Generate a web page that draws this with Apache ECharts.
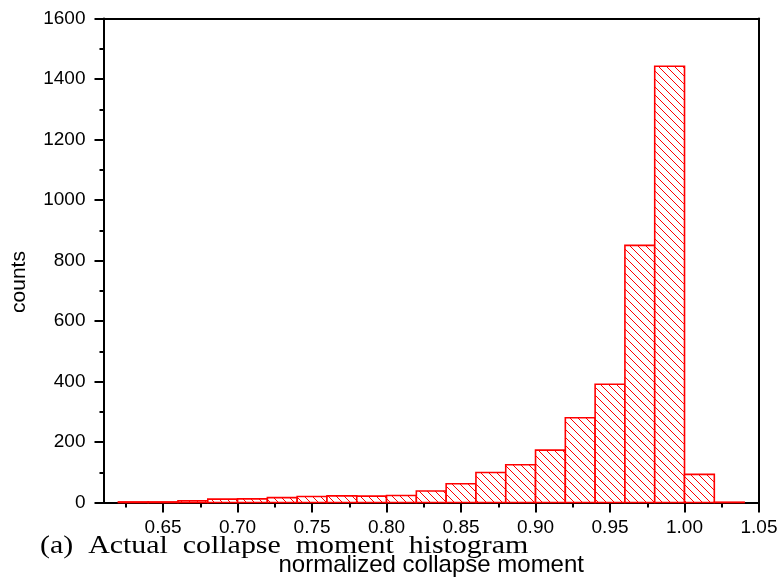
<!DOCTYPE html>
<html>
<head>
<meta charset="utf-8">
<script src="https://cdn.jsdelivr.net/npm/echarts@6/dist/echarts.min.js"></script>
<style>
  html, body { margin: 0; padding: 0; background: #fff; }
  #chart { width: 781px; height: 583px; }
</style>
</head>
<body>
<div id="chart"></div>
<script>
// Histogram bins: left edge of each bin (bin width 0.02) and the count in it
const binLefts = [0.62, 0.64, 0.66, 0.68, 0.70, 0.72, 0.74, 0.76, 0.78, 0.80,
                  0.82, 0.84, 0.86, 0.88, 0.90, 0.92, 0.94, 0.96, 0.98, 1.00, 1.02];
const binWidth = 0.02;
const counts = [2, 2, 6, 11, 12, 16, 20, 22, 21, 23,
                38, 62, 99, 125, 173, 280, 391, 850, 1442, 93, 1];

// Axis ticks
const xMajorTicks = [0.65, 0.70, 0.75, 0.80, 0.85, 0.90, 0.95, 1.00, 1.05];
const xMinorTicks = [0.625, 0.675, 0.725, 0.775, 0.825, 0.875, 0.925, 0.975, 1.025];
const xRange = [0.61, 1.05];
const yRange = [0, 1600];
const yStep = 200;

const caption = '(a)  Actual  collapse  moment  histogram';
const xTitle = 'normalized collapse moment';
const yTitle = 'counts';

// Diagonal hatch tile for the bar fill
function hatchTile() {
  const s = 8;
  const c = document.createElement('canvas');
  c.width = s; c.height = s;
  const g = c.getContext('2d');
  g.fillStyle = '#fff';
  g.fillRect(0, 0, s, s);
  g.strokeStyle = '#ff0000';
  g.lineWidth = 1;
  g.beginPath();
  g.moveTo(-1, -1); g.lineTo(s + 1, s + 1);
  g.moveTo(-1, s - 1); g.lineTo(1, s + 1);
  g.moveTo(s - 1, -1); g.lineTo(s + 1, 1);
  g.stroke();
  return c;
}

const hist = binLefts.map((x0, i) => [x0, x0 + binWidth, counts[i]]);

const chart = echarts.init(document.getElementById('chart'), null, { renderer: 'canvas' });
const axisFont = 'Liberation Sans';
const tile = hatchTile();

chart.setOption({
  animation: false,
  backgroundColor: '#fff',
  grid: { left: 103.5, top: 18.5, width: 655.5, height: 484, containLabel: false },
  xAxis: [
    {
      type: 'value', min: xRange[0], max: xRange[1], position: 'bottom', offset: 0,
      axisLine: { show: true, onZero: false, lineStyle: { color: '#000', width: 2 } },
      axisTick: { show: true, inside: false, length: 10, customValues: xMajorTicks,
                  lineStyle: { color: '#000', width: 2 } },
      axisLabel: { show: true, customValues: xMajorTicks, margin: 16,
                   formatter: v => v.toFixed(2),
                   fontFamily: axisFont, fontSize: 19, color: '#000' },
      splitLine: { show: false },
      name: xTitle, nameLocation: 'middle', nameGap: 51,
      nameTextStyle: { fontFamily: axisFont, fontSize: 24, color: '#000' }
    },
    {
      type: 'value', min: xRange[0], max: xRange[1], position: 'bottom', offset: 0,
      axisLine: { show: false },
      axisTick: { show: true, inside: false, length: 5, customValues: xMinorTicks,
                  lineStyle: { color: '#000', width: 2 } },
      axisLabel: { show: false },
      splitLine: { show: false }
    },
    {
      type: 'value', min: xRange[0], max: xRange[1], position: 'top', offset: 0,
      axisLine: { show: true, onZero: false, lineStyle: { color: '#000', width: 2 } },
      axisTick: { show: false }, axisLabel: { show: false }, splitLine: { show: false }
    }
  ],
  yAxis: [
    {
      type: 'value', min: yRange[0], max: yRange[1], interval: yStep, position: 'left',
      axisLine: { show: true, onZero: false, lineStyle: { color: '#000', width: 2 } },
      axisTick: { show: true, inside: false, length: 9, lineStyle: { color: '#000', width: 2 } },
      minorTick: { show: true, splitNumber: 2, length: 4, lineStyle: { color: '#000', width: 2 } },
      axisLabel: { margin: 18, formatter: v => String(v),
                   fontFamily: axisFont, fontSize: 19, color: '#000' },
      splitLine: { show: false }
    },
    {
      type: 'value', min: yRange[0], max: yRange[1], position: 'right',
      axisLine: { show: true, onZero: false, lineStyle: { color: '#000', width: 2 } },
      axisTick: { show: false }, axisLabel: { show: false }, splitLine: { show: false }
    }
  ],
  graphic: [
    {
      // y-axis title, rotated
      type: 'text', x: 19, y: 282, rotation: Math.PI / 2,
      style: { text: yTitle, font: '21px "Liberation Sans"', fill: '#000',
               align: 'center', verticalAlign: 'middle' }
    },
    {
      // panel caption under the axis labels
      type: 'text', x: 40, y: 533, scaleX: 1.15,
      style: { text: caption, font: '26px "Liberation Serif"', fill: '#000' }
    }
  ],
  series: [
    {
      type: 'custom',
      xAxisIndex: 0, yAxisIndex: 0,
      data: hist,
      renderItem: function (params, api) {
        const p0 = api.coord([api.value(0), api.value(2)]);
        const p1 = api.coord([api.value(1), 0]);
        return {
          type: 'rect',
          shape: { x: p0[0], y: p0[1], width: p1[0] - p0[0], height: p1[1] - p0[1] },
          style: {
            fill: { image: tile, repeat: 'repeat' },
            stroke: '#ff0000',
            lineWidth: 1.6
          }
        };
      }
    }
  ]
});
</script>
</body>
</html>
